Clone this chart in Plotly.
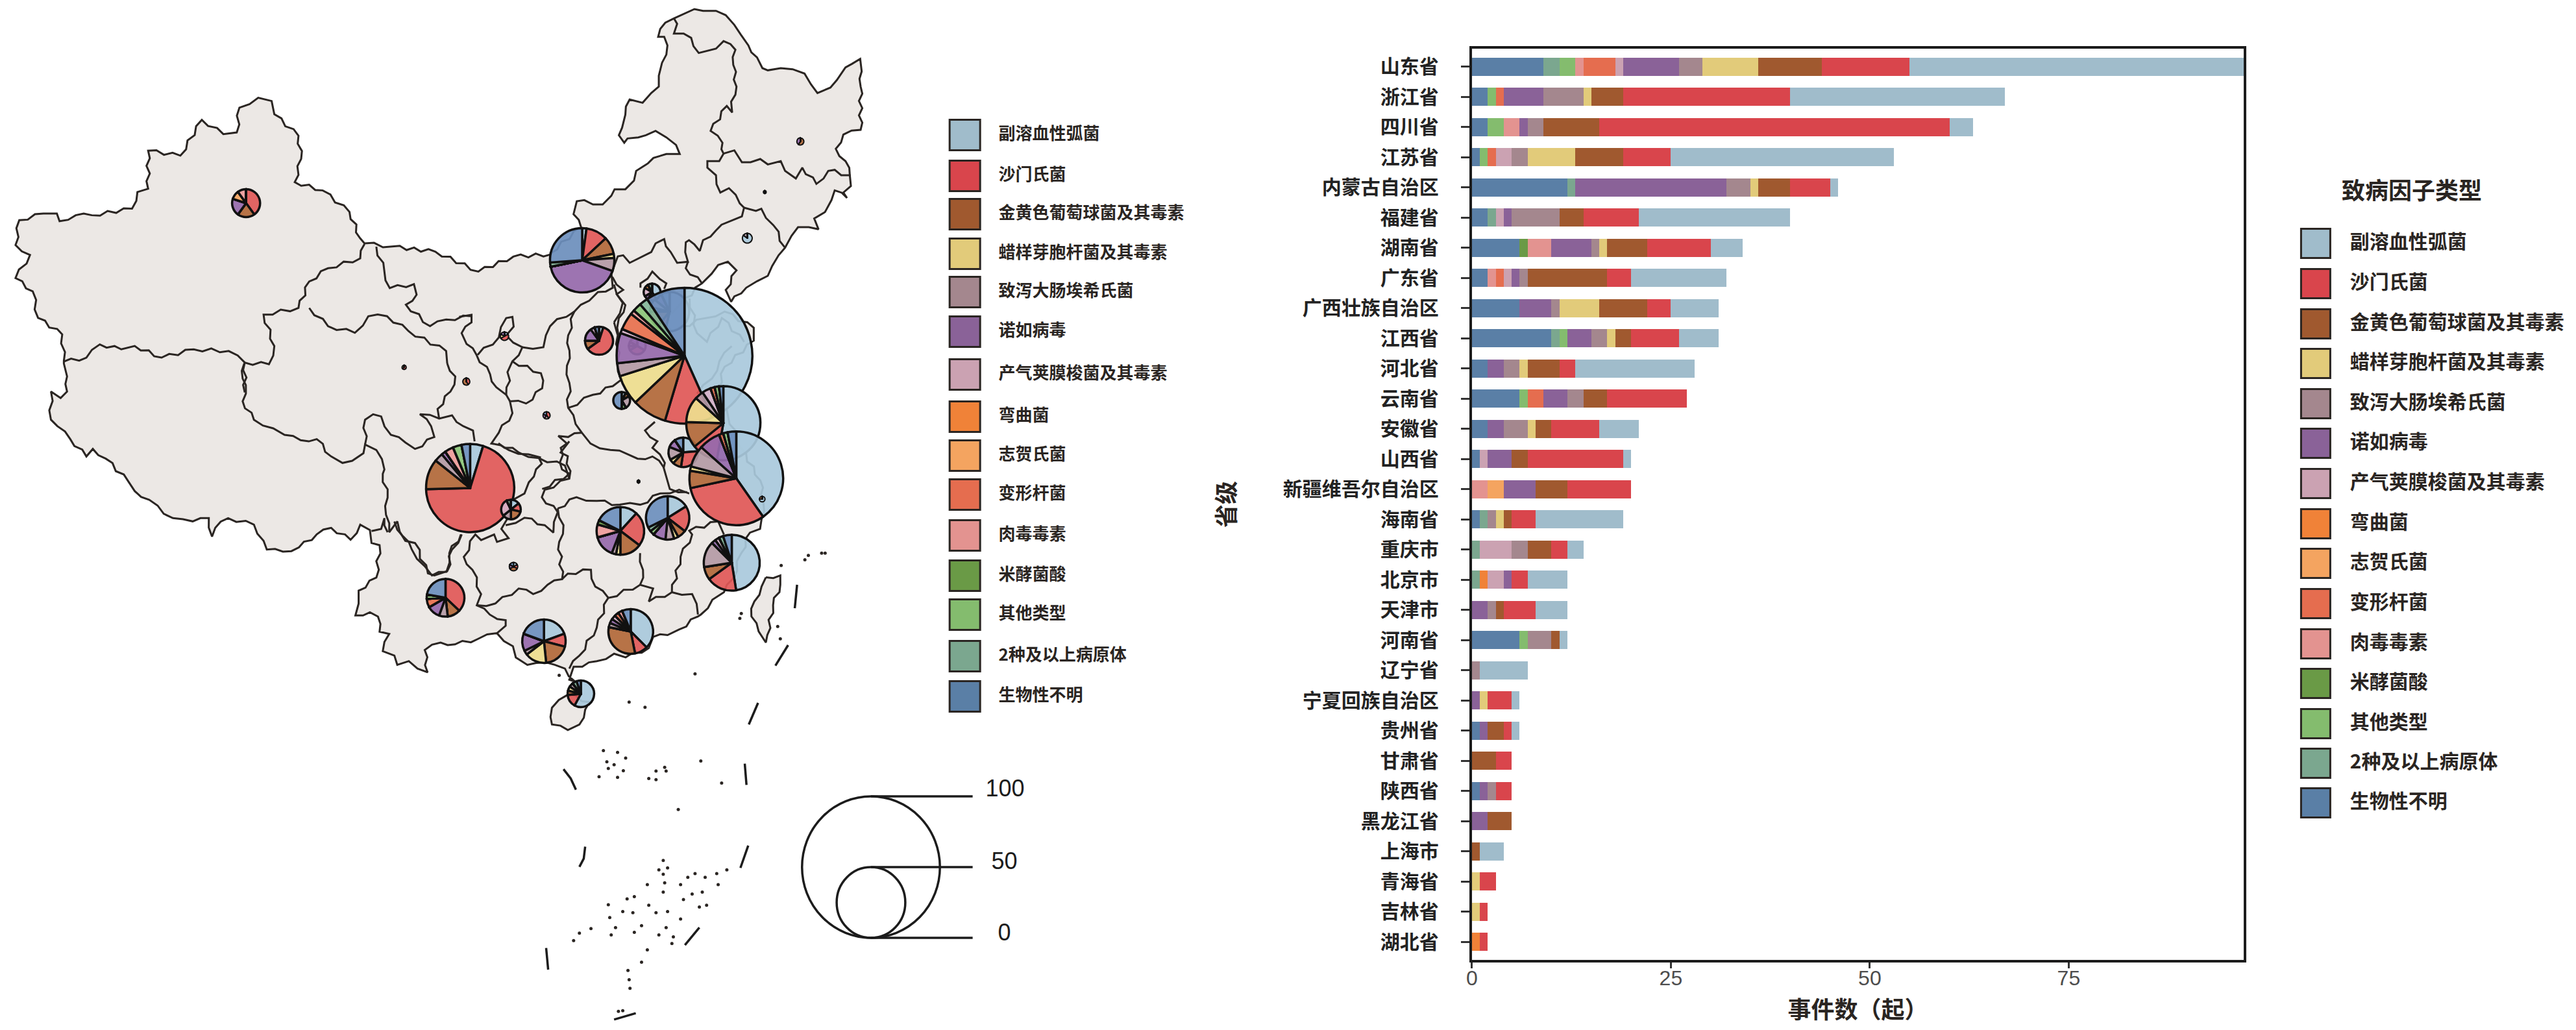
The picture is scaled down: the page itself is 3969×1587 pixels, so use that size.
import math

import plotly.graph_objects as go

# 省级 (top to bottom in the bar panel)
PROVINCES = ["山东省", "浙江省", "四川省", "江苏省", "内蒙古自治区", "福建省", "湖南省", "广东省", "广西壮族自治区", "江西省",
             "河北省", "云南省", "安徽省", "山西省", "新疆维吾尔自治区", "海南省", "重庆市", "北京市", "天津市", "河南省",
             "辽宁省", "宁夏回族自治区", "贵州省", "甘肃省", "陕西省", "黑龙江省", "上海市", "青海省", "吉林省", "湖北省"]

# event counts per province, same order as PROVINCES
VIBRIO =   [42, 27, 3, 28, 1, 19, 4, 12, 6, 5, 15, 0, 5, 1, 0, 11, 2, 5, 4, 1, 6, 1, 1, 0, 0, 0, 3, 0, 0, 0]
SALMON =   [11, 21, 44, 6, 5, 7, 8, 3, 3, 6, 2, 10, 6, 12, 8, 3, 2, 2, 4, 0, 0, 3, 1, 2, 2, 0, 0, 2, 1, 1]
STAPH =    [8, 4, 7, 6, 4, 3, 5, 10, 6, 2, 4, 3, 2, 2, 4, 1, 3, 0, 1, 1, 0, 0, 2, 3, 0, 3, 1, 0, 0, 0]
CEREUS =   [7, 1, 0, 6, 1, 0, 1, 0, 5, 1, 1, 0, 1, 0, 0, 1, 0, 0, 0, 0, 0, 1, 0, 0, 0, 0, 0, 1, 1, 0]
ECOLI =    [3, 5, 2, 2, 3, 6, 1, 1, 1, 2, 2, 2, 3, 0, 0, 1, 2, 0, 1, 3, 1, 0, 0, 0, 1, 0, 0, 0, 0, 0]
NOROV =    [7, 5, 1, 0, 19, 1, 5, 1, 4, 3, 2, 3, 2, 3, 4, 0, 0, 1, 2, 0, 0, 1, 1, 0, 1, 2, 0, 0, 0, 0]
PERFR =    [1, 0, 0, 2, 0, 1, 0, 1, 0, 0, 0, 0, 0, 1, 0, 0, 4, 2, 0, 0, 0, 0, 0, 0, 0, 0, 0, 0, 0, 0]
CAMPY =    [0, 0, 0, 0, 0, 0, 0, 0, 0, 0, 0, 0, 0, 0, 0, 0, 0, 1, 0, 0, 0, 0, 0, 0, 0, 0, 0, 0, 0, 1]
SHIGELLA = [0, 0, 0, 0, 0, 0, 0, 0, 0, 0, 0, 0, 0, 0, 2, 0, 0, 0, 0, 0, 0, 0, 0, 0, 0, 0, 0, 0, 0, 0]
PROTEUS =  [4, 1, 0, 1, 0, 0, 0, 1, 0, 0, 0, 2, 0, 0, 0, 0, 0, 0, 0, 0, 0, 0, 0, 0, 0, 0, 0, 0, 0, 0]
BOTUL =    [1, 0, 2, 0, 0, 0, 3, 1, 0, 0, 0, 0, 0, 0, 2, 0, 0, 0, 0, 0, 0, 0, 0, 0, 0, 0, 0, 0, 0, 0]
BONGK =    [0, 0, 0, 0, 0, 0, 1, 0, 0, 0, 0, 0, 0, 0, 0, 0, 0, 0, 0, 0, 0, 0, 0, 0, 0, 0, 0, 0, 0, 0]
OTHER =    [2, 1, 2, 1, 0, 0, 0, 0, 0, 1, 0, 1, 0, 0, 0, 0, 0, 0, 0, 1, 0, 0, 0, 0, 0, 0, 0, 0, 0, 0]
MULTI =    [2, 0, 0, 0, 1, 1, 0, 0, 0, 1, 0, 0, 0, 0, 0, 1, 1, 1, 0, 0, 0, 0, 0, 0, 0, 0, 0, 0, 0, 0]
UNKNOWN =  [9, 2, 2, 1, 12, 2, 6, 2, 6, 10, 2, 6, 2, 1, 0, 1, 0, 0, 0, 6, 0, 0, 1, 0, 1, 0, 0, 0, 0, 0]

SERIES = [VIBRIO, SALMON, STAPH, CEREUS, ECOLI, NOROV, PERFR, CAMPY, SHIGELLA, PROTEUS, BOTUL, BONGK, OTHER, MULTI, UNKNOWN]
NAMES = ["副溶血性弧菌", "沙门氏菌", "金黄色葡萄球菌及其毒素", "蜡样芽胞杆菌及其毒素", "致泻大肠埃希氏菌", "诺如病毒",
         "产气荚膜梭菌及其毒素", "弯曲菌", "志贺氏菌", "变形杆菌", "肉毒毒素", "米酵菌酸", "其他类型", "2种及以上病原体", "生物性不明"]
BAR_COLORS = ["#A0BCCB", "#D9454C", "#A0592F", "#E2CB7A", "#A4878E", "#8A6298", "#CBA2B2", "#F08238",
              "#F4A460", "#E56D4F", "#E39390", "#6A9A46", "#84BC6E", "#7BA78F", "#5A7FA6"]
PIE_COLORS = ["rgba(169,201,220,.92)", "rgba(225,88,88,.92)", "rgba(178,104,58,.92)", "rgba(238,221,142,.92)",
              "rgba(180,154,166,.92)", "rgba(150,105,172,.92)", "rgba(215,179,201,.92)", "rgba(245,138,60,.92)",
              "rgba(246,165,98,.92)", "rgba(232,112,78,.92)", "rgba(238,155,155,.92)", "rgba(106,158,72,.92)",
              "rgba(140,198,122,.92)", "rgba(132,183,154,.92)", "rgba(108,143,190,.92)"]

# where each province's pie sits on the map, page pixels
PIE_X = [1048, 1128, 717, 1108, 890, 1121, 949, 965, 831, 1022, 1025, 679, 1046, 916, 371, 888, 780, 998, 975, 951, 1145, 770, 784, 711, 835, 1227, 1168, 615, 1172, 977]
PIE_Y = [548, 737, 752, 652, 401, 867, 818, 973, 988, 798, 480, 921, 697, 525, 313, 1069, 785, 450, 533, 617, 367, 518, 873, 588, 640, 218, 769, 566, 296, 742]
# draw order where pies overlap (later on top)
PIE_ORDER = ["河北省", "北京市", "天津市", "河南省", "山东省", "安徽省", "江苏省", "浙江省", "上海市", "四川省", "重庆市", "内蒙古自治区",
             "福建省", "湖南省", "江西省", "广东省", "广西壮族自治区", "云南省", "贵州省", "海南省", "新疆维吾尔自治区", "山西省",
             "辽宁省", "宁夏回族自治区", "甘肃省", "陕西省", "黑龙江省", "青海省", "吉林省", "湖北省"]
PIE_RADIUS_PER_EVENT = 1.08

FONT = "Noto Sans CJK SC"
W, H, OFF = 3953, 1571, 8  # page margin of the browser is 8 px


def px_x(v):
    return (v - OFF) / W


def px_y(v):
    return 1 - (v - OFF) / H


def crop(points, x0, y0, sx, sy):
    # map outlines were traced on enlarged crops, bring them back to page pixels
    return [(x0 + x / sx, y0 + y / sy) for x, y in points]


def z12(p):
    return crop(p, 800, 0, 3, 3)


def z5(p):
    return crop(p, 0, 0, 1.206, 1.96)


def z6(p):
    return crop(p, 700, 300, 2.613, 3)


def z7(p):
    return crop(p, 600, 680, 2.24, 1.742)


def z11(p):
    return crop(p, 0, 560, 2.01, 3)


def rough(points, step=11, amp=2.6):
    # the source map has wiggly borders, add a small zigzag between traced vertices
    out = [points[0]]
    flip = 1
    for (x0, y0), (x1, y1) in zip(points, points[1:]):
        dist = math.hypot(x1 - x0, y1 - y0)
        n = max(1, int(dist / step))
        for k in range(1, n):
            t = k / n
            out.append((x0 + (x1 - x0) * t - flip * amp * (y1 - y0) / dist,
                        y0 + (y1 - y0) * t + flip * amp * (x1 - x0) / dist))
            flip = -flip
        out.append((x1, y1))
    return out


OUTLINE = (
    z12([(120, 1172), (265, 1050), (230, 990), (245, 930), (280, 925), (320, 945), (365, 945), (405, 905), (420, 875), (470, 875),
         (510, 835), (520, 790), (575, 755), (600, 730), (660, 712), (722, 712), (705, 670), (660, 635), (610, 605), (565, 625),
         (530, 635), (480, 640), (465, 660), (440, 625), (455, 590), (470, 530), (490, 460), (550, 475), (590, 430), (625, 400),
         (625, 350), (640, 290), (665, 210), (650, 170), (622, 170), (655, 105), (695, 85), (740, 65), (790, 42), (830, 50),
         (890, 50), (935, 70), (975, 115), (1005, 160), (1040, 210), (1080, 265), (1105, 315), (1130, 325), (1190, 315), (1245, 320),
         (1300, 340), (1330, 390), (1360, 430), (1420, 405), (1450, 370), (1470, 340), (1520, 295), (1558, 272), (1565, 330), (1560, 400),
         (1560, 600), (1480, 622), (1445, 688), (1490, 745), (1510, 810), (1515, 860), (1480, 890), (1497, 915), (1440, 880), (1425, 925),
         (1395, 980), (1345, 1010), (1365, 1060), (1320, 1050), (1270, 1050), (1240, 1090), (1210, 1145), (1180, 1180), (1150, 1230), (1130, 1275),
         (1080, 1300), (1030, 1330), (975, 1370), (960, 1395), (935, 1340), (985, 1250), (945, 1210), (900, 1225), (870, 1265), (825, 1310)])
    + [(1040, 470), (1015, 490), (1030, 510), (1080, 490), (1110, 480), (1155, 505), (1155, 525), (1110, 565), (1100, 600),
       (1115, 640), (1135, 690), (1165, 740), (1170, 775), (1167, 800)]
    + z7([(1265, 235), (1230, 245), (1200, 300), (1170, 370), (1140, 405), (1100, 425), (1060, 465), (1050, 470), (985, 505), (945, 520),
          (895, 525), (880, 555), (800, 580), (760, 570), (700, 590), (650, 605), (620, 605), (605, 640), (625, 645), (590, 610),
          (555, 600), (490, 595), (460, 600), (420, 580), (410, 550), (355, 515), (290, 530), (210, 545), (160, 540), (105, 560),
          (115, 620), (80, 610), (50, 590), (10, 600), (0, 575)])
    + z11([(1170, 1330), (1190, 1250), (1160, 1240), (1155, 1170), (1130, 1150), (1085, 1165), (1095, 1110), (1095, 1050), (1150, 990), (1160, 840),
           (1135, 830), (1130, 770), (1100, 745), (1070, 815), (1010, 760), (965, 790), (910, 850), (860, 870), (810, 860), (800, 820),
           (770, 745), (690, 715), (650, 760), (640, 800), (630, 715), (580, 730), (550, 720), (490, 695), (445, 630), (400, 590),
           (380, 545), (310, 440), (270, 395), (250, 430), (200, 350), (160, 290), (140, 260), (140, 130), (170, 160), (190, 130),
           (190, 60), (180, 0)])
    + z5([(108, 1090), (105, 1010), (60, 960), (50, 880), (18, 840), (45, 770), (18, 740), (25, 665), (70, 645), (95, 645),
          (100, 668), (130, 650), (160, 650), (235, 630), (245, 580), (265, 570), (265, 455), (325, 470), (365, 362), (405, 405),
          (430, 400), (435, 325), (470, 295), (495, 305), (500, 345), (545, 410), (550, 480), (538, 550), (590, 575), (640, 640),
          (660, 720), (668, 735), (720, 745), (800, 760), (880, 820), (945, 775), (1015, 768)])
)
TAIWAN = z7([(1285, 365), (1335, 360), (1335, 385), (1310, 440), (1290, 520), (1285, 540), (1260, 510), (1235, 470), (1245, 430), (1270, 390), (1285, 365)])
HAINAN = z7([(600, 680), (545, 715), (540, 740), (545, 760), (600, 775), (640, 760), (660, 720), (675, 700), (600, 680)])

BORDERS = [
    z12([(695, 85), (710, 110), (695, 155), (740, 155), (775, 175), (810, 245), (850, 235), (890, 225), (925, 190), (980, 230),
         (970, 300), (985, 400), (960, 470), (965, 520), (940, 490), (865, 605), (920, 660), (915, 690), (925, 710), (905, 745),
         (850, 745), (850, 775), (890, 810), (910, 890), (950, 870), (1000, 940), (1020, 960), (1010, 1000), (950, 1025), (890, 1065),
         (830, 1110), (815, 1160), (790, 1130), (765, 1110), (750, 1120), (760, 1210), (710, 1215), (680, 1165), (650, 1105), (610, 1125),
         (590, 1165), (540, 1190), (490, 1215), (460, 1180), (435, 1185), (420, 1225), (405, 1270)]),
    z12([(925, 710), (975, 695), (1010, 750), (1050, 750), (1095, 735), (1130, 760), (1190, 745), (1210, 790), (1260, 825), (1290, 775),
         (1355, 850), (1410, 790), (1440, 785), (1470, 810), (1510, 810)]),
    z12([(1020, 960), (1075, 975), (1100, 965), (1155, 1040), (1210, 1145)]),
    z12([(760, 1210), (750, 1240), (825, 1310)]),
    z12([(540, 1330), (540, 1310), (595, 1255), (630, 1290), (660, 1310), (650, 1335)]),
    z12([(410, 1280), (460, 1340), (430, 1360), (470, 1410), (440, 1470), (440, 1560)]),
    # west
    z5([(668, 737), (660, 780), (600, 810), (565, 850), (545, 930), (480, 950), (500, 1045), (490, 1100), (445, 1095), (415, 1060),
        (350, 1055), (290, 1080), (240, 1045), (215, 1055), (175, 1040), (150, 1080), (108, 1092)]),
    z5([(445, 1095), (445, 1185)]),
    z11([(740, 0), (735, 70), (745, 100), (735, 175), (770, 260), (830, 300), (865, 330), (915, 355), (965, 350), (1010, 430),
         (1045, 460), (1075, 450), (1110, 415), (1115, 375), (1150, 400), (1175, 490), (1170, 510), (1185, 620), (1180, 700), (1190, 780),
         (1215, 730), (1240, 820), (1270, 830), (1310, 970), (1330, 980), (1370, 960), (1385, 860), (1415, 790)]),
    z11([(1135, 775), (1165, 765), (1175, 715), (1185, 780)]),
    z11([(1115, 375), (1115, 260), (1140, 235), (1165, 245), (1195, 330), (1240, 365), (1270, 395), (1330, 340), (1320, 290), (1285, 235),
         (1345, 255), (1385, 240), (1420, 290), (1450, 310), (1455, 360)]),
    z11([(1345, 255), (1340, 210), (1380, 130), (1395, 60), (1370, 0)]),
    z5([(822, 1098), (820, 1060), (750, 1000), (710, 955), (675, 955), (650, 1005), (600, 985), (565, 930)]),
    z5([(690, 745), (705, 820), (715, 870), (760, 858), (765, 890), (745, 920), (790, 985), (820, 965), (868, 955)]),
    # centre
    z6([(0, 565), (50, 555), (50, 590), (10, 640), (30, 690), (70, 740), (125, 830), (150, 890), (190, 925), (205, 860),
        (195, 820), (215, 770), (255, 705), (190, 650), (220, 610), (215, 565), (190, 570), (160, 660), (75, 740)]),
    z6([(255, 705), (340, 705), (350, 650), (395, 575), (465, 540), (525, 490), (560, 450), (620, 430), (615, 370)]),
    z6([(215, 770), (330, 825), (335, 895), (270, 965), (205, 955), (215, 1010), (160, 1100), (130, 1150), (200, 1180), (280, 1200), (330, 1215)]),
    z6([(190, 925), (205, 955)]),
    z6([(465, 540), (440, 650), (445, 720), (435, 790), (445, 870), (440, 985), (470, 1060), (495, 1100), (440, 1120), (400, 1115),
        (435, 1150), (410, 1170), (415, 1270), (445, 1290), (335, 1360)]),
    z6([(440, 985), (540, 925), (620, 885), (660, 850)]),
    z6([(495, 1100), (530, 1150), (610, 1180), (680, 1200), (720, 1220), (780, 1210), (825, 1260), (835, 1300), (850, 1360), (920, 1375)]),
    z6([(790, 1050), (750, 1090), (800, 1140), (780, 1170), (830, 1240), (825, 1265)]),
    z6([(625, 590), (660, 500), (625, 415)]),
    z6([(625, 590), (640, 650), (640, 770), (655, 860)]),
    # shadows under the big pies
    z6([(930, 480), (960, 640), (1000, 680), (1060, 570), (1150, 680)]),
    z6([(1100, 700), (1050, 770), (1020, 850), (960, 920)]),
    # south
    z7([(360, 5), (430, 30), (500, 45), (510, 60), (490, 75), (465, 110), (450, 140), (415, 155), (385, 215), (370, 235),
        (395, 260), (355, 270), (345, 250), (300, 265), (280, 250), (240, 310), (270, 345), (300, 410), (285, 440), (330, 465),
        (385, 480), (385, 495), (355, 515)]),
    z7([(0, 215), (30, 255), (60, 290), (105, 335), (130, 360), (180, 350), (190, 300), (230, 250)]),
    z7([(285, 440), (350, 435), (430, 395), (480, 410), (530, 385), (580, 370), (570, 270), (585, 225), (565, 180)]),
    z7([(385, 225), (450, 205), (520, 225), (550, 245), (565, 190), (510, 150), (520, 130), (605, 100), (600, 40), (575, 30), (605, 0)]),
    z7([(500, 45), (590, 65), (605, 100)]),
    z7([(565, 180), (630, 150), (700, 160), (780, 170), (850, 170), (920, 140), (985, 130), (1020, 140)]),
    z7([(850, 300), (860, 345), (850, 385)]),
    z7([(580, 370), (600, 355), (680, 345), (695, 390), (740, 420), (850, 385), (895, 395), (880, 430), (960, 405), (990, 310), (1030, 250), (1020, 240), (1120, 215)]),
    z7([(740, 420), (700, 500), (640, 575), (605, 610)]),
    z7([(960, 405), (1030, 410), (1050, 465)]),
    z7([(1120, 215), (1140, 250)]),
]

# nine-dash line segments
DASHES = [z7(p) for p in [
    [(1393, 385), (1385, 448)], [(1362, 547), (1318, 602)], [(1258, 702), (1226, 760)], [(1212, 865), (1218, 922)],
    [(1224, 1085), (1197, 1145)], [(1055, 1305), (1005, 1352)], [(585, 880), (610, 905), (628, 935)], [(660, 1088), (655, 1120), (640, 1142)],
    [(525, 1360), (532, 1418)], [(835, 1535), (760, 1552)],
]]

ISLETS = z7([(1478, 300), (1490, 300), (1432, 306), (1420, 318), (1338, 333), (1200, 462), (1195, 475), (1326, 497), (1335, 530), (1040, 624),
             (570, 628), (812, 700), (867, 714), (723, 830), (772, 835), (735, 860), (760, 868), (800, 850), (740, 878), (792, 884),
             (708, 900), (772, 902), (880, 905), (905, 885), (935, 875), (940, 885), (905, 908), (1060, 858), (1132, 917), (982, 988),
             (930, 1125), (915, 1150), (945, 1145), (930, 1162), (875, 1190), (935, 1185), (930, 1210), (1015, 1170), (1040, 1160), (1075, 1170),
             (1115, 1160), (1150, 1150), (1120, 1190), (990, 1190), (1000, 1230), (1030, 1215), (1065, 1210), (1055, 1250), (1080, 1245), (830, 1222),
             (805, 1228), (740, 1244), (880, 1245), (905, 1265), (945, 1262), (790, 1262), (825, 1265), (745, 1278), (855, 1300), (765, 1305),
             (990, 1282), (750, 1325), (830, 1318), (680, 1308), (640, 1320), (620, 1340), (940, 1305), (915, 1325), (965, 1330), (960, 1348),
             (875, 1365), (855, 1398), (808, 1420), (812, 1445), (815, 1468), (790, 1528), (775, 1530)])

# the size key
KEY_VALUES = [100, 50, 0]

fig = go.Figure()

# ---- map, drawn on a hidden axis pair that spans the whole page in pixels
for shape in [OUTLINE, TAIWAN, HAINAN]:
    ring = rough(shape + [shape[0]])
    fig.add_trace(go.Scatter(x=[p[0] for p in ring], y=[p[1] for p in ring],
                             mode="lines", fill="toself", fillcolor="#ECE8E5",
                             line=dict(color="#2A2522", width=3), xaxis="x2", yaxis="y2", showlegend=False, hoverinfo="skip"))


def joined(lines):
    xs, ys = [], []
    for line in lines:
        xs += [p[0] for p in line] + [None]
        ys += [p[1] for p in line] + [None]
    return xs, ys


bx, by = joined([rough(b) for b in BORDERS])
fig.add_trace(go.Scatter(x=bx, y=by, mode="lines", line=dict(color="#2A2522", width=3),
                         xaxis="x2", yaxis="y2", showlegend=False, hoverinfo="skip"))
dx, dy = joined(DASHES)
fig.add_trace(go.Scatter(x=dx, y=dy, mode="lines", line=dict(color="#1c1c1c", width=3.5),
                         xaxis="x2", yaxis="y2", showlegend=False, hoverinfo="skip"))
fig.add_trace(go.Scatter(x=[p[0] for p in ISLETS], y=[p[1] for p in ISLETS], mode="markers",
                         marker=dict(color="#2A2522", size=5), xaxis="x2", yaxis="y2", showlegend=False, hoverinfo="skip"))

# ---- pies
for name in PIE_ORDER:
    i = PROVINCES.index(name)
    values = [s[i] for s in SERIES]
    r = sum(values) * PIE_RADIUS_PER_EVENT
    fig.add_trace(go.Pie(values=values, labels=NAMES, sort=False, direction="clockwise", rotation=0,
                         marker=dict(colors=PIE_COLORS, line=dict(color="#111111", width=3.5 if r > 8 else 2)),
                         textinfo="none", showlegend=False, name=name,
                         domain=dict(x=[px_x(PIE_X[i] - r), px_x(PIE_X[i] + r)],
                                     y=[px_y(PIE_Y[i] + r), px_y(PIE_Y[i] - r)])))

# ---- stacked bars, left to right is the reverse of the legend
for values, name, color in reversed(list(zip(SERIES, NAMES, BAR_COLORS))):
    fig.add_trace(go.Bar(x=values, y=PROVINCES, name=name, orientation="h", width=0.6,
                         marker=dict(color=color, line=dict(width=0)), showlegend=False))

# ---- the two hand-placed colour keys
LEFT_KEY_Y = [208, 271, 330, 391, 450, 511, 577, 642, 702, 762, 825, 887, 947, 1011, 1073]
RIGHT_KEY_Y = [375, 437, 499, 560, 622, 683, 745, 807, 868, 930, 992, 1053, 1115, 1176, 1237]
for box_x, text_x, key_y, box, size in [(1481, 1533, LEFT_KEY_Y, 47, 26), (3567, 3620, RIGHT_KEY_Y, 45, 30)]:
    fig.add_trace(go.Scatter(x=[box_x] * len(NAMES), y=key_y, mode="markers",
                             marker=dict(symbol="square", size=box, color=BAR_COLORS, line=dict(color="#2A2522", width=3)),
                             xaxis="x2", yaxis="y2", showlegend=False, hoverinfo="skip"))
    fig.add_trace(go.Scatter(x=[text_x] * len(NAMES), y=key_y, mode="text", text=NAMES, textposition="middle right",
                             textfont=dict(family=FONT, size=size, color="#2A2522", weight="bold"),
                             xaxis="x2", yaxis="y2", showlegend=False, hoverinfo="skip"))

# ---- size key lines and labels
fig.add_trace(go.Scatter(x=[1336, 1493, None, 1336, 1493, None, 1336, 1493], y=[1227, 1227, None, 1336, 1336, None, 1445, 1445],
                         mode="lines", line=dict(color="#1c1c1c", width=3.5),
                         xaxis="x2", yaxis="y2", showlegend=False, hoverinfo="skip"))
fig.add_trace(go.Scatter(x=[1543, 1542, 1542], y=[1218, 1330, 1440], mode="text", text=[str(v) for v in KEY_VALUES],
                         textposition="middle center", textfont=dict(family="Liberation Sans", size=36, color="#1c1c1c"),
                         xaxis="x2", yaxis="y2", showlegend=False, hoverinfo="skip"))

fig.update_layout(
    width=W, height=H, margin=dict(l=0, r=0, t=0, b=0), autosize=False,
    paper_bgcolor="white", plot_bgcolor="rgba(0,0,0,0)", barmode="stack", showlegend=False,
    font=dict(family=FONT),
    xaxis=dict(domain=[px_x(2264), px_x(3456)], range=[0, 97], tickvals=[0, 25, 50, 75], ticks="outside", ticklen=9, tickwidth=3,
               tickcolor="#333333", showgrid=False, zeroline=False, showline=True, linecolor="#1c1c1c", linewidth=4, mirror=True,
               tickfont=dict(family="Liberation Sans", size=32, color="#4d4d4d"), ticklabelstandoff=-12,
               title=dict(text="事件数（起）", standoff=25, font=dict(family=FONT, size=36, color="#2A2522", weight="bold"))),
    yaxis=dict(domain=[px_y(1479), px_y(75)], range=[29.6, -0.6], type="category", ticks="outside", ticklen=13, tickwidth=3,
               tickcolor="#333333", showgrid=False, zeroline=False, showline=True, linecolor="#1c1c1c", linewidth=4, mirror=True,
               tickfont=dict(family=FONT, size=30, color="#222222", weight="bold"), ticklabelstandoff=28,
               title=dict(text="省级", standoff=63, font=dict(family=FONT, size=36, color="#2A2522", weight="bold"))),
    xaxis2=dict(domain=[0, 1], range=[OFF, OFF + W], visible=False, anchor="y2"),
    yaxis2=dict(domain=[0, 1], range=[OFF + H, OFF], visible=False, anchor="x2"),
    shapes=[
        dict(type="circle", xref="x2", yref="y2", x0=1229.5, x1=1442.5, y0=1227, y1=1445, line=dict(color="#1c1c1c", width=3.5), layer="above"),
        dict(type="circle", xref="x2", yref="y2", x0=1283, x1=1389, y0=1336, y1=1445, line=dict(color="#1c1c1c", width=3.5), layer="above"),
    ],
    annotations=[
        dict(xref="x2", yref="y2", x=3715, y=291, text="致病因子类型", showarrow=False,
             font=dict(family=FONT, size=36, color="#2A2522", weight="bold")),
    ],
)

fig.write_html("out.html")
